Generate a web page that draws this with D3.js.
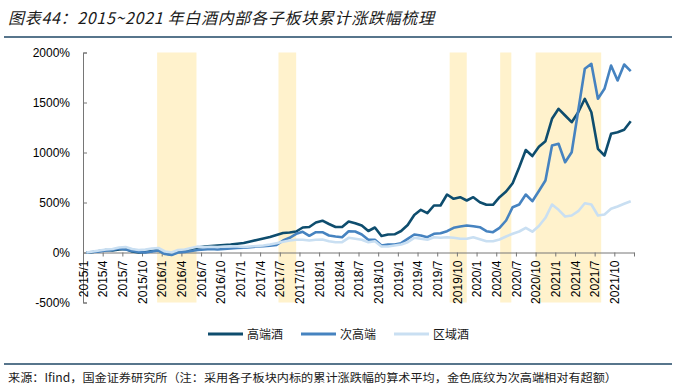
<!DOCTYPE html>
<html>
<head>
<meta charset="utf-8">
<script src="https://cdn.jsdelivr.net/npm/d3@7"></script>
<style>
  body { margin: 0; background: #fff; }
  svg { display: block; }
</style>
</head>
<body>
<div id="chart-container"></div>
<script>
// Month index 0 = 2015/1, one value per month up to 2021/12 (cumulative change, %)
const highEnd = [0, 5, 15, 25, 20, 30, 35, 10, 0, 5, 15, 25, -10, -20, 10, 15, 35, 50,
  60, 65, 70, 75, 80, 87, 95, 110, 125, 140, 155, 175,
  195, 200, 210, 250, 255, 300, 318, 285, 255, 255, 310, 293, 270, 215, 250, 165, 180, 182,
  215, 275, 375, 427, 393, 470, 470, 580, 537, 553, 520, 553, 503, 477, 477, 553, 610, 693,
  853, 1025, 965, 1057, 1113, 1337, 1437, 1370, 1303, 1403, 1537, 1403, 1037, 970, 1187, 1203, 1227, 1313];

const subHighEnd = [0, 5, 10, 20, 25, 40, 30, 15, 5, 0, 10, 20, -15, -25, 0, 5, 15, 25,
  30, 35, 30, 35, 40, 45, 47, 53, 60, 63, 67, 75,
  120, 147, 187, 207, 167, 203, 203, 170, 160, 153, 213, 210, 180, 127, 127, 70, 80, 80,
  93, 137, 180, 170, 153, 187, 193, 213, 247, 260, 270, 263, 253, 213, 203, 247, 320, 453,
  480, 580, 513, 615, 720, 1070, 1087, 903, 1003, 1420, 1837, 1887, 1537, 1637, 1870, 1720, 1880, 1813];

const regional = [0, 10, 20, 30, 35, 50, 55, 35, 25, 30, 40, 45, 10, 0, 25, 30, 45, 60,
  55, 58, 55, 60, 62, 60, 55, 60, 65, 70, 80, 93,
  107, 120, 127, 127, 120, 127, 130, 113, 103, 103, 147, 137, 127, 103, 113, 60, 60, 70,
  80, 103, 147, 137, 127, 153, 147, 153, 147, 137, 137, 153, 133, 113, 113, 130, 160, 187,
  210, 247, 208, 265, 347, 480, 427, 360, 370, 413, 493, 480, 370, 380, 437, 460, 487, 513];

const seriesNames = ["高端酒", "次高端", "区域酒"];

// shaded periods, in month index units
const bands = [[11.3, 17.3], [29.8, 32.5], [55.9, 58.5], [63.6, 65.3], [69.0, 79.0]];

const xTickLabels = ["2015/1", "2015/4", "2015/7", "2015/10", "2016/1", "2016/4", "2016/7", "2016/10",
  "2017/1", "2017/4", "2017/7", "2017/10", "2018/1", "2018/4", "2018/7", "2018/10",
  "2019/1", "2019/4", "2019/7", "2019/10", "2020/1", "2020/4", "2020/7", "2020/10",
  "2021/1", "2021/4", "2021/7", "2021/10"];

const yTicks = [-500, 0, 500, 1000, 1500, 2000];

const width = 675;
const height = 389;

const colors = ["#0E4D6E", "#4683C0", "#C9DFF2"];

const x = d3.scaleLinear().domain([0, 84]).range([83, 634]);
const y = d3.scaleLinear().domain([-500, 2000]).range([302.5, 52.5]);

const svg = d3.create("svg")
  .attr("width", width)
  .attr("height", height)
  .attr("viewBox", [0, 0, width, height]);

// Title and rules
svg.append("text")
  .attr("x", 8)
  .attr("y", 24)
  .attr("font-family", "'Noto Sans CJK SC', sans-serif")
  .attr("font-style", "italic")
  .attr("font-size", 16)
  .attr("textLength", 426)
  .attr("lengthAdjust", "spacing")
  .attr("fill", "#1a1a1a")
  .text("图表44：2015~2021 年白酒内部各子板块累计涨跌幅梳理");

svg.append("line")
  .attr("x1", 4).attr("x2", 672)
  .attr("y1", 37).attr("y2", 37)
  .attr("stroke", "#1F4766").attr("stroke-width", 1.5);

svg.append("line")
  .attr("x1", 4).attr("x2", 672)
  .attr("y1", 364).attr("y2", 364)
  .attr("stroke", "#1F4766").attr("stroke-width", 1.5);

svg.append("text")
  .attr("x", 8)
  .attr("y", 382)
  .attr("font-family", "'Noto Sans CJK SC', sans-serif")
  .attr("font-size", 11.6)
  .attr("textLength", 609)
  .attr("lengthAdjust", "spacingAndGlyphs")
  .attr("fill", "#1a1a1a")
  .text("来源：Ifind，国金证券研究所（注：采用各子板块内标的累计涨跌幅的算术平均，金色底纹为次高端相对有超额）");

// Shaded bands
svg.append("g")
  .selectAll("rect")
  .data(bands)
  .join("rect")
  .attr("x", d => x(d[0]))
  .attr("width", d => x(d[1]) - x(d[0]))
  .attr("y", y(2000))
  .attr("height", y(-500) - y(2000))
  .attr("fill", "#FFF2CC");

// Y axis
svg.append("g")
  .attr("transform", `translate(${x(0)},0)`)
  .call(d3.axisLeft(y).tickValues(yTicks).tickSize(-4).tickPadding(13).tickFormat(d => d + "%"))
  .call(g => g.selectAll("line, path").attr("stroke", "#767676"))
  .call(g => g.selectAll("text")
    .attr("font-family", "'Liberation Sans', Arial, sans-serif")
    .attr("font-size", 12)
    .attr("fill", "#000"));

// X axis on the 0% line
svg.append("g")
  .attr("transform", `translate(0,${y(0)})`)
  .call(d3.axisBottom(x).tickValues(d3.range(0, 85, 3)).tickSize(4).tickSizeOuter(0)
    .tickFormat((d, i) => xTickLabels[i] || ""))
  .call(g => g.selectAll("line, path").attr("stroke", "#767676"))
  .call(g => g.selectAll("text")
    .attr("font-family", "'Liberation Sans', Arial, sans-serif")
    .attr("font-size", 12)
    .attr("fill", "#000")
    .attr("transform", "rotate(-90)")
    .attr("x", -8)
    .attr("y", 0)
    .attr("dy", "0.35em")
    .style("text-anchor", "end"));

// Lines
const line = d3.line()
  .x((d, i) => x(i + 0.5))
  .y(d => y(d));

svg.append("g")
  .selectAll("path")
  .data([highEnd, subHighEnd, regional])
  .join("path")
  .attr("fill", "none")
  .attr("stroke", (d, i) => colors[i])
  .attr("stroke-width", 2.6)
  .attr("stroke-linejoin", "round")
  .attr("d", line);

// Legend
const legendX = [208, 301, 394];
const legend = svg.append("g");
seriesNames.forEach((name, i) => {
  legend.append("line")
    .attr("x1", legendX[i]).attr("x2", legendX[i] + 35)
    .attr("y1", 334).attr("y2", 334)
    .attr("stroke", colors[i]).attr("stroke-width", 3);
  legend.append("text")
    .attr("x", legendX[i] + 39)
    .attr("y", 338.5)
    .attr("font-family", "'Noto Sans CJK SC', sans-serif")
    .attr("font-size", 12)
    .attr("fill", "#1a1a1a")
    .text(name);
});

document.getElementById("chart-container").appendChild(svg.node());
</script>
</body>
</html>
